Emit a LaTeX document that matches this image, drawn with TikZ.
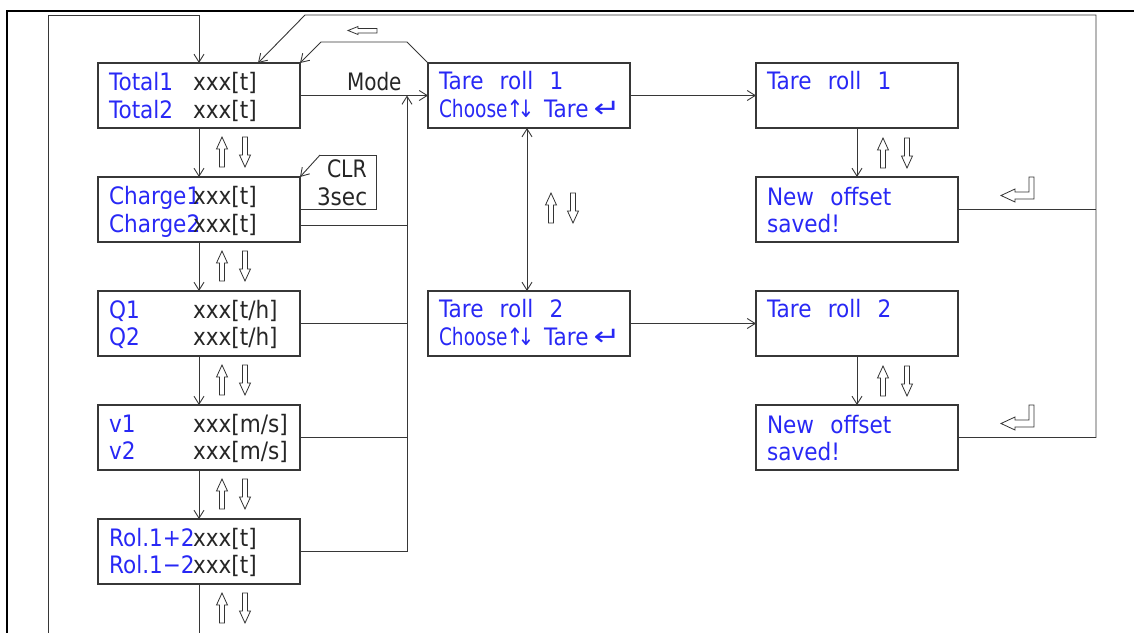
\documentclass[tikz,border=0pt]{standalone}
\usepackage{fontspec}
\setmainfont{DejaVu Sans}
\usetikzlibrary{arrows.meta,calc}
\definecolor{cadblue}{RGB}{40,40,245}
\definecolor{cadline}{RGB}{55,55,55}
\newcommand{\cadtxt}[1]{\scalebox{1.08}[1.2]{#1}}
\newcommand{\chooseline}{\rlap{\scalebox{0.93}[1.2]{Choose}}\hspace{76pt}\makebox[0pt]{\scalebox{1}[1.2]{↑}}\hspace{11pt}\makebox[0pt]{\scalebox{1}[1.2]{↓}}\hspace{18pt}\rlap{\cadtxt{Tare}}\hspace{63pt}\makebox[0pt]{\scalebox{1.6}[1.3]{↵}}}
\begin{document}
\begin{tikzpicture}[x=1pt,y=-1pt,
  box/.style={draw=cadline,line width=1.2pt,rectangle,minimum width=202pt,minimum height=65pt,inner sep=0pt,outer sep=0pt},
  conn/.style={draw=cadline,line width=0.9pt},
  arr/.style={conn,-{Straight Barb[length=8pt,width=10pt]}},
  arrb/.style={conn,{Straight Barb[length=8pt,width=10pt]}-{Straight Barb[length=8pt,width=10pt]}},
  bt/.style={anchor=base west,inner sep=0pt,outer sep=0pt,text=cadblue,font=\fontsize{20}{24}\selectfont},
  kt/.style={bt,text=black!85},
  hollow/.style={draw=black!80,line width=0.8pt,fill=white,line join=miter},
  uparr/.pic={\draw[hollow] (0,0) -- (5.5,12) -- (2.5,12) -- (2.5,30) -- (-2.5,30) -- (-2.5,12) -- (-5.5,12) -- cycle;},
  dnarr/.pic={\draw[hollow] (0,30) -- (5.5,18) -- (2.5,18) -- (2.5,0) -- (-2.5,0) -- (-2.5,18) -- (-5.5,18) -- cycle;},
  enterarr/.pic={\draw[hollow] (0,0) -- (0,22) -- (-19,22) -- (-19,25) -- (-33,18.5) -- (-19,12) -- (-19,15) -- (-5,15) -- (-5,0) -- cycle;},
  leftarr/.pic={\draw[hollow] (0,0) -- (10,-4) -- (10,-2) -- (29,-2) -- (29,2.5) -- (10,2.5) -- (10,4) -- cycle;}
]
\useasboundingbox (0,0) rectangle (1134,632);
% outer frame
\draw[line width=2.2pt] (7,640) -- (7,11) -- (1140,11);

% boxes
\node[box] (total)  at (199,95.5) {};
\node[box] (charge) at (199,209.5) {};
\node[box] (q)      at (199,323.5) {};
\node[box] (v)      at (199,437.5) {};
\node[box] (rol)    at (199,551.5) {};
\node[box] (tr1)    at (529,95.5) {};
\node[box] (tr2)    at (529,323.5) {};
\node[box] (rt1)    at (857,95.5) {};
\node[box] (no1)    at (857,209.5) {};
\node[box] (rt2)    at (857,323.5) {};
\node[box] (no2)    at (857,437.5) {};

% texts left column
\node[bt] (ta) at (109,90)  {\cadtxt{Total1}};
\node[bt] (tb) at (109,118) {\cadtxt{Total2}};
\node[kt] (tc) at (193,90)  {\cadtxt{xxx[t]}};
\node[kt] (td) at (193,118) {\cadtxt{xxx[t]}};
\node[bt] (ca) at (109,204) {\cadtxt{Charge1}};
\node[bt] (cb) at (109,232) {\cadtxt{Charge2}};
\node[kt] (cc) at (193,204) {\cadtxt{xxx[t]}};
\node[kt] (cd) at (193,232) {\cadtxt{xxx[t]}};
\node[bt] (qa) at (109,318) {\cadtxt{Q1}};
\node[bt] (qb) at (109,345) {\cadtxt{Q2}};
\node[kt] (qc) at (193,318) {\cadtxt{xxx[t/h]}};
\node[kt] (qd) at (193,345) {\cadtxt{xxx[t/h]}};
\node[bt] (va) at (109,432) {\cadtxt{v1}};
\node[bt] (vb) at (109,459) {\cadtxt{v2}};
\node[kt] (vc) at (193,432) {\cadtxt{xxx[m/s]}};
\node[kt] (vd) at (193,459) {\cadtxt{xxx[m/s]}};
\node[bt] (ra) at (109,546) {\cadtxt{Rol.1+2}};
\node[bt] (rb) at (109,573) {\cadtxt{Rol.1−2}};
\node[kt] (rc) at (193,546) {\cadtxt{xxx[t]}};
\node[kt] (rd) at (193,573) {\cadtxt{xxx[t]}};

% texts middle/right
\node[bt] (m1a) at (439,89)  {\cadtxt{Tare\hspace{15pt}roll\hspace{15pt}1}};
\node[bt] (m1b) at (439,117) {\chooseline};
\node[bt] (m2a) at (439,317) {\cadtxt{Tare\hspace{15pt}roll\hspace{15pt}2}};
\node[bt] (m2b) at (439,345) {\chooseline};
\node[bt] (r1a) at (767,89)  {\cadtxt{Tare\hspace{15pt}roll\hspace{15pt}1}};
\node[bt] (n1a) at (767,205) {\cadtxt{New\hspace{15pt}offset}};
\node[bt] (n1b) at (767,232) {\cadtxt{saved!}};
\node[bt] (r2a) at (767,317) {\cadtxt{Tare\hspace{15pt}roll\hspace{15pt}2}};
\node[bt] (n2a) at (767,433) {\cadtxt{New\hspace{15pt}offset}};
\node[bt] (n2b) at (767,460) {\cadtxt{saved!}};

\node[kt] (mode) at (347,90)  {\scalebox{1}[1.2]{Mode}};
\node[kt] (clr)  at (327,177) {\scalebox{1.02}[1.2]{CLR}};
\node[kt] (sec)  at (317,205) {\scalebox{1.08}[1.2]{3sec}};

% coordinates
\coordinate (bl) at (48,640);
\coordinate (lt) at (48,15);
\coordinate (bc) at (199,640);
\coordinate (busx) at (407,0);
\coordinate (rx) at (1096,15);

% left loop
\draw[arr] (bl) -- (lt) -- (lt -| total.north) -- (total.north);
% main column
\draw[arr] (total.south) -- (charge.north);
\draw[arr] (charge.south) -- (q.north);
\draw[arr] (q.south) -- (v.north);
\draw[arr] (v.south) -- (rol.north);
\draw[conn] (rol.south) -- (bc);
% mode and bus
\draw[arr] (total.east) -- (tr1.west);
\draw[arr] (rol.east) -| (busx |- total.east);
\path ([yshift=-15.5pt]charge.east) coordinate (ce);
\draw[conn] (ce) -- (ce -| busx);
\draw[conn] (q.east) -- (q.east -| busx);
\draw[conn] (v.east) -- (v.east -| busx);
% CLR callout
\draw[conn] (charge.east) -- ++(76,0) -- ++(0,-54.5) -- ++(-56,0) coordinate (clrc);
\draw[arr] (clrc) -- (charge.north east);
% small top loop
\draw[arr] (tr1.north west) -- ++(-21,-21) -- ++(-86,0) -- (total.north east);
% big top loop
\draw[arr] (no2.east) -| (rx) -- ++(-791,0) -- ([xshift=59pt]total.north);
\draw[conn] (no1.east) -- (no1.east -| rx);
% tare links
\draw[arr] (tr1.east) -- (rt1.west);
\draw[arr] (tr2.east) -- (rt2.west);
\draw[arr] (rt1.south) -- (no1.north);
\draw[arr] (rt2.south) -- (no2.north);
\draw[arrb] ([xshift=-2pt]tr1.south) -- ([xshift=-2pt]tr2.north);

% hollow arrows
\foreach \yy in {137,251,365,479,593} {
  \pic at (222,\yy) {uparr};
  \pic at (245,\yy) {dnarr};
}
\pic at (551,193) {uparr};
\pic at (573,193) {dnarr};
\pic at (883,138) {uparr};
\pic at (907,138) {dnarr};
\pic at (883,366) {uparr};
\pic at (907,366) {dnarr};
\pic at (1034,177) {enterarr};
\pic at (1034,405) {enterarr};
\pic at (348,30.5) {leftarr};
\end{tikzpicture}
\end{document}
